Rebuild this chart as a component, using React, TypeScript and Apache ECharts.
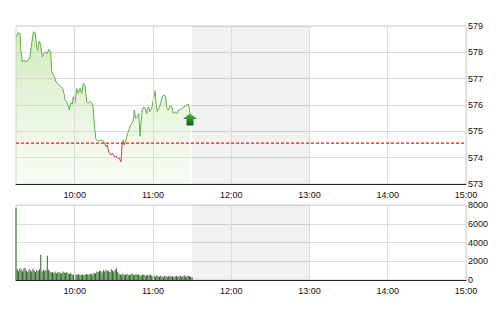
import React, { useEffect, useRef } from 'react';
import * as echarts from 'echarts';

// minutes after 09:15
const hourTicks = [45, 105, 165, 225, 285, 345];
const sessionStart = 0; // 09:15
const sessionEnd = 345; // 15:00
const lunchStart = 135; // 11:30
const lunchEnd = 225; // 13:00
const refPrice = 574.55;

const priceTimes = [
  0, 1.8, 3.1, 3.8, 4.8, 6.1, 7.7, 9.4, 10.7, 12.0,
  13.3, 14.6, 15.9, 16.6, 17.9, 18.9, 20.2, 21.5, 22.8, 23.8,
  25.3, 26.6, 27.4, 29.4, 30.7, 32.0, 33.2, 34.5, 35.8, 36.8,
  37.6, 38.9, 40.1, 40.9, 41.9, 43.2, 43.9, 45.2, 46.5, 47.8,
  49.1, 50.4, 51.6, 52.9, 54.2, 55.4, 57.3, 58.8, 59.8, 61.1,
  62.6, 64.4, 65.7, 66.9, 68.3, 69.0, 70.0, 71.3, 72.8, 74.1,
  75.4, 76.7, 78.0, 79.2, 80.5, 81.5, 82.3, 83.0, 84.3, 85.6,
  87.4, 88.7, 89.9, 90.7, 91.8, 93.0, 94.1, 95.1, 95.8, 96.8,
  97.9, 99.1, 100.2, 101.4, 102.7, 104.0, 105.3, 106.6, 107.3, 108.3,
  109.6, 110.9, 112.2, 113.5, 114.8, 115.5, 116.8, 118.1, 119.4, 120.6,
  121.9, 123.2, 124.4, 125.7, 127.0, 128.3, 129.6, 130.9, 132.1, 132.9, 133.4,
];

const prices = [
  578.58, 578.75, 578.71, 578.08, 577.64, 577.70, 577.64, 577.70, 577.83, 578.33,
  578.77, 578.77, 578.20, 578.08, 578.43, 578.27, 577.83, 577.95, 578.02, 577.95,
  578.11, 578.02, 577.26, 577.07, 576.88, 576.82, 576.75, 576.69, 576.63, 576.44,
  576.19, 576.12, 575.96, 575.81, 576.08, 576.03, 576.31, 576.06, 576.63, 576.44,
  576.63, 576.44, 576.82, 576.75, 576.12, 576.08, 576.12, 576.03, 575.43, 574.73,
  574.64, 574.64, 574.67, 574.64, 574.52, 574.42, 574.48, 574.19, 574.10, 574.17,
  574.04, 574.06, 573.98, 573.98, 573.85, 574.61, 574.67, 574.48, 574.67, 574.92,
  575.17, 575.30, 575.43, 575.81, 575.49, 575.55, 575.68, 574.82, 575.30, 575.81,
  575.93, 575.87, 575.68, 575.93, 575.74, 575.87, 576.19, 576.54, 576.12, 575.74,
  575.87, 576.06, 576.34, 576.38, 576.31, 575.91, 575.81, 575.96, 575.93, 575.68,
  575.74, 575.68, 575.81, 575.81, 575.87, 575.91, 575.96, 576.00, 576.03, 575.87, 575.68,
];

// per-minute volume from 09:15
const volumes = [
  7700,
  1150, 950, 1250, 1100, 900, 1200, 1300, 1000, 850, 1150, 1050, 900, 1200, 1000, 850, 1100, 950, 1150,
  2700,
  900, 1100, 950, 1050,
  2600,
  1100, 900, 800, 850, 750, 900, 700, 800, 850, 750, 700, 900, 800, 750, 850, 700, 650, 750,
  600, 550, 500, 600, 550, 650, 500, 550, 600, 500, 550, 650, 600, 550, 700, 600, 650, 750, 700,
  900, 850, 1000, 950, 800, 1050, 900, 1100, 950, 1000, 850, 1150, 1000, 900, 1100, 1250, 850,
  650, 600, 550, 700, 500, 600, 650, 550, 500, 600, 700, 550, 500, 650, 550, 600, 500, 450, 550, 600, 500, 450, 550, 500, 600, 450,
  400, 450, 350, 500, 400, 350, 450, 400, 300, 450, 400, 350, 400, 450, 350, 400, 300, 400, 450, 350, 400, 450, 350, 400, 500, 350, 400, 450, 400, 350, 300,
];

const FONT = '"Liberation Sans", Arial, sans-serif';

function fmtTime(m: number): string {
  const t = 555 + m;
  const hh = Math.floor(t / 60);
  const mm = Math.round(t % 60);
  return `${hh}:${mm < 10 ? '0' + mm : mm}`;
}

export default function App() {
  const ref = useRef<HTMLDivElement>(null);
  useEffect(() => {
    if (!ref.current) return;
    const chart = echarts.init(ref.current, null, { renderer: 'svg' });
    const gridLine = { show: true, lineStyle: { color: '#dcdcdc', width: 1 } };
    const labelStyle = { fontSize: 9, fontFamily: FONT, color: '#111' };
    const xAxisBase = (gridIndex: number) => ({
      type: 'value',
      gridIndex,
      min: sessionStart,
      max: sessionEnd,
      axisLine: { show: true, onZero: false, lineStyle: { color: '#222', width: 1 } },
      axisTick: { show: false },
      axisLabel: { show: false },
      splitLine: { show: false },
    });
    const hourLines = () =>
      hourTicks.map((h) => ({
        xAxis: h,
        lineStyle: { color: '#dcdcdc', type: 'solid', width: 1 },
        label: { show: true, position: 'start', distance: 6, formatter: fmtTime(h), ...labelStyle },
      }));
    const linePts = priceTimes.map((t, i) => [t, prices[i]]);
    const last = linePts[linePts.length - 1];
    const yAxisBase = (gridIndex: number, min: number, max: number, interval: number) => ({
      type: 'value',
      gridIndex,
      position: 'right',
      min,
      max,
      interval,
      axisLine: { show: false },
      axisTick: { show: false },
      axisLabel: { margin: 2, ...labelStyle, formatter: (v: number) => String(v) },
      splitLine: gridLine,
    });
    chart.setOption({
      animation: false,
      backgroundColor: '#ffffff',
      grid: [
        { left: 16, right: 34, top: 26, height: 158, show: true, borderColor: '#d4d4d4', borderWidth: 1 },
        { left: 16, right: 34, top: 205, height: 75, show: true, borderColor: '#d4d4d4', borderWidth: 1 },
      ],
      xAxis: [xAxisBase(0), xAxisBase(1)],
      yAxis: [yAxisBase(0, 573, 579, 1), yAxisBase(1, 0, 8000, 2000)],
      visualMap: [
        {
          type: 'piecewise',
          show: false,
          seriesIndex: 0,
          dimension: 1,
          pieces: [
            { gte: 570, lt: refPrice, color: '#e0364a' },
            { gte: refPrice, lte: 585, color: '#5cb247' },
          ],
          outOfRange: { color: '#5cb247' },
        },
      ],
      series: [
        {
          type: 'line',
          xAxisIndex: 0,
          yAxisIndex: 0,
          data: linePts,
          showSymbol: false,
          symbol: 'none',
          silent: true,
          lineStyle: { width: 1 },
          z: 3,
          areaStyle: {
            origin: 'start',
            color: new echarts.graphic.LinearGradient(0, 0, 0, 1, [
              { offset: 0, color: 'rgba(172,218,134,0.8)' },
              { offset: 1, color: 'rgba(215,238,198,0.25)' },
            ]),
          },
          markPoint: {
            silent: true,
            label: { show: false },
            data: [
              {
                coord: last,
                symbol: 'path://M7,0 L14,5.5 L10.5,5.5 L10.5,12 L3.5,12 L3.5,5.5 L0,5.5 Z',
                symbolSize: [14, 12],
                symbolOffset: [0, 6],
                itemStyle: {
                  color: new echarts.graphic.LinearGradient(0, 0, 0, 1, [
                    { offset: 0, color: '#4cb83a' },
                    { offset: 1, color: '#0d660d' },
                  ]),
                },
              },
            ],
          },
        },
        {
          // markers of the price panel
          type: 'line',
          xAxisIndex: 0,
          yAxisIndex: 0,
          data: linePts,
          showSymbol: false,
          symbol: 'none',
          silent: true,
          lineStyle: { opacity: 0 },
          z: 2,
          markArea: {
            silent: true,
            itemStyle: { color: 'rgba(0,0,0,0.055)' },
            data: [[{ xAxis: lunchStart }, { xAxis: lunchEnd }]],
          },
          markLine: {
            silent: true,
            symbol: ['none', 'none'],
            data: hourLines(),
          },
        },
        {
          // reference (previous close) line
          type: 'line',
          xAxisIndex: 0,
          yAxisIndex: 0,
          data: [
            [sessionStart, refPrice],
            [sessionEnd, refPrice],
          ],
          showSymbol: false,
          symbol: 'none',
          silent: true,
          z: 5,
          itemStyle: { color: '#ff1010' },
          lineStyle: { color: '#ff1010', type: [3, 2], width: 1.2 },
        },
        {
          type: 'bar',
          xAxisIndex: 1,
          yAxisIndex: 1,
          data: volumes.map((v, i) => [i, v]),
          barWidth: 1,
          silent: true,
          itemStyle: { color: '#2a6422' },
          markArea: {
            silent: true,
            itemStyle: { color: 'rgba(0,0,0,0.055)' },
            data: [[{ xAxis: lunchStart }, { xAxis: lunchEnd }]],
          },
          markLine: {
            silent: true,
            symbol: ['none', 'none'],
            data: hourLines(),
          },
        },
      ],
    });
    return () => chart.dispose();
  }, []);
  return (
    <div
      ref={ref}
      style={{ position: 'fixed', left: 0, top: 0, width: 500, height: 312, background: '#fff' }}
    />
  );
}
